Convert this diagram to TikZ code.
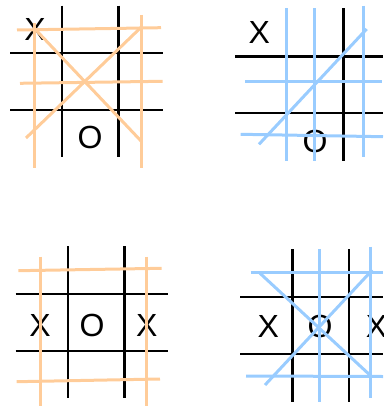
\documentclass[tikz,border=0pt]{standalone}
\usepackage{fontspec}
\setmainfont{Liberation Sans}
\usetikzlibrary{positioning}
\definecolor{peach}{RGB}{255,204,153}
\definecolor{skyblue}{RGB}{153,204,255}

\begin{document}
\begin{tikzpicture}[
    x=1pt, y=-1pt,
    every node/.style={font=\fontsize{32}{32}\selectfont, inner sep=0pt},
    board/.style={line width=2.4pt, draw=black},
    stroke/.style={line width=3pt, draw=#1},
]
\clip (0,0) rectangle (383,406);

%% Board 1: top left
\draw[board] (61.7,5.7) -- (61.7,157);
\draw[board] (118.3,5.7) -- (118.3,157);
\draw[board] (10,53.3) -- (162.7,53.3);
\draw[board] (10,110) -- (162.7,110);
\node (xa) at (35,29) {X};
\node (oa) at (90,137) {O};

\draw[stroke=peach] (34.3,23) -- (34.3,168);
\draw[stroke=peach] (141.7,15) -- (141.7,168);
\draw[stroke=peach] (17,30) -- (161,27.7);
\draw[stroke=peach] (20,83.3) -- (162.7,81.3);
\draw[stroke=peach] (xa.center) -- (141.7,141.7);
\draw[stroke=peach] (26,138) -- (141.7,26.7);

%% Board 2: top right
\draw[board] (286.7,8.3) -- (286.7,161);
\draw[board] (343.3,8.3) -- (343.3,161);
\draw[board] (235,56.7) -- (383,56.7);
\draw[board] (235,113.3) -- (383,113.3);
\node (xb) at (259.3,32.3) {X};
\node (ob) at (315,141.7) {O};

\draw[stroke=skyblue] (286.7,8.3) -- (286.7,161);
\draw[stroke=skyblue] (314,8.3) -- (314,161);
\draw[stroke=skyblue] (363.3,5.7) -- (363.3,157);
\draw[stroke=skyblue] (245,81.3) -- (382,81.3);
\draw[stroke=skyblue] (240.7,134.3) -- (383,136.7);
\draw[stroke=skyblue] (259,144.3) -- (366.7,29);

%% Board 3: bottom left
\draw[board] (67.7,246) -- (67.7,398.3);
\draw[board] (124.3,246) -- (124.3,398.3);
\draw[board] (15.7,294) -- (168.3,294);
\draw[board] (15.7,350.7) -- (168.3,350.7);
\node (xc) at (40,325) {X};
\node (oc) at (92,325) {O};
\node (xd) at (146.7,325) {X};

\draw[stroke=peach] (40,256.7) -- (40,406);
\draw[stroke=peach] (146.7,256.7) -- (146.7,406);
\draw[stroke=peach] (18.3,270.7) -- (161.7,268.3);
\draw[stroke=peach] (16.7,381.7) -- (160,379);

%% Board 4: bottom right
\draw[board] (292.3,249) -- (292.3,401.7);
\draw[board] (349,249) -- (349,401.7);
\draw[board] (240,296.7) -- (383,296.7);
\draw[board] (240,354) -- (383,354);
\node (xe) at (268.3,326.7) {X};
\node (oe) at (320,326.7) {O};
\node (xf) at (376.5,326.7) {X};

\draw[stroke=skyblue] (319.3,249) -- (319.3,401.7);
\draw[stroke=skyblue] (370,246.7) -- (370,398);
\draw[stroke=skyblue] (250.7,272.5) -- (383,272.5);
\draw[stroke=skyblue] (246,376) -- (383,376.5);
\draw[stroke=skyblue] (260,273.3) -- (371.7,376.7);
\draw[stroke=skyblue] (265,385) -- (372.3,270);

\end{tikzpicture}
\end{document}
